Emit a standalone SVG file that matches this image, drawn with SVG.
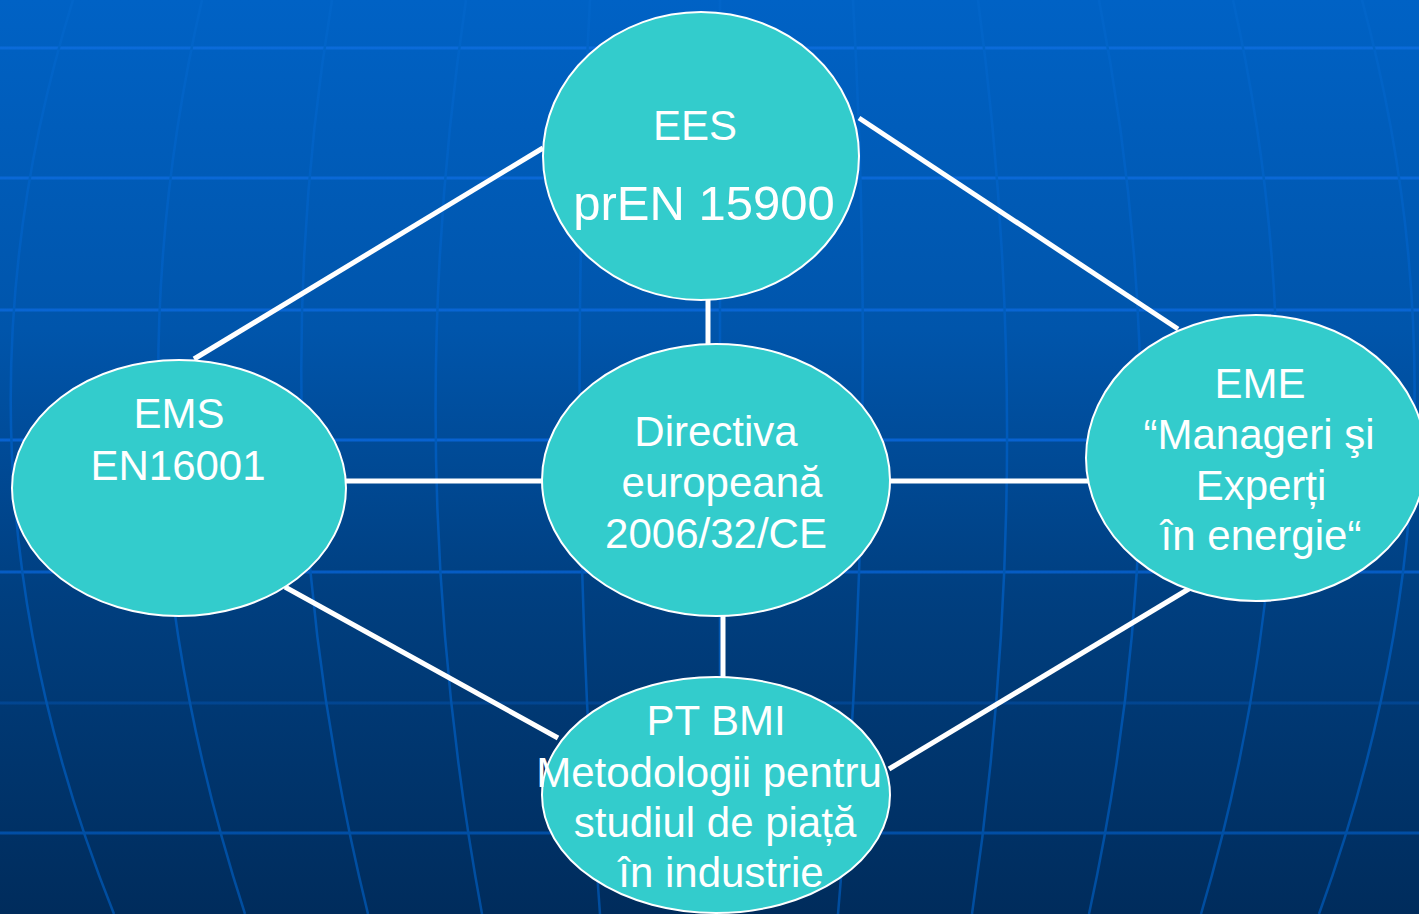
<svg xmlns="http://www.w3.org/2000/svg" width="1419" height="914" viewBox="0 0 1419 914">
  <defs>
    <linearGradient id="bg" x1="0" y1="0" x2="0" y2="1">
      <stop offset="0" stop-color="#0062c5"/>
      <stop offset="0.36" stop-color="#0055ab"/>
      <stop offset="0.65" stop-color="#003f80"/>
      <stop offset="1" stop-color="#002c5c"/>
    </linearGradient>
    <linearGradient id="gridH" gradientUnits="userSpaceOnUse" x1="0" y1="0" x2="0" y2="914">
      <stop offset="0" stop-color="#0b6cda"/>
      <stop offset="0.5" stop-color="#0862d0"/>
      <stop offset="1" stop-color="#004a9c"/>
    </linearGradient>
    <linearGradient id="gridV" gradientUnits="userSpaceOnUse" x1="0" y1="0" x2="0" y2="914">
      <stop offset="0" stop-color="#0265c9"/>
      <stop offset="0.45" stop-color="#005bbc"/>
      <stop offset="1" stop-color="#004d9f"/>
    </linearGradient>
  </defs>
  <style>
    .gh { stroke: url(#gridH); stroke-width: 3; fill: none; }
    .gv { stroke: url(#gridV); stroke-width: 2.5; fill: none; }
    .conn { stroke: #ffffff; stroke-width: 5; fill: none; }
    .node { fill: #33cccc; stroke: #ffffff; stroke-width: 2; }
    .lbl { fill: #ffffff; font-family: "Liberation Sans", Arial, sans-serif; font-size: 42px; text-anchor: middle; }
    .big { font-size: 49px; }
  </style>

  <g id="background">
    <rect x="0" y="0" width="1419" height="914" fill="url(#bg)"/>
    <g id="grid-horizontal">
      <line class="gh" x1="0" y1="48" x2="1419" y2="48"/>
      <line class="gh" x1="0" y1="178" x2="1419" y2="178"/>
      <line class="gh" x1="0" y1="310" x2="1419" y2="310"/>
      <line class="gh" x1="0" y1="440" x2="1419" y2="440"/>
      <line class="gh" x1="0" y1="572" x2="1419" y2="572"/>
      <line class="gh" x1="0" y1="703" x2="1419" y2="703" stroke-opacity="0.45"/>
      <line class="gh" x1="0" y1="833" x2="1419" y2="833"/>
    </g>
    <g id="grid-meridians">
      <path class="gv" d="M73,0 Q-69.5,457 114,914"/>
      <path class="gv" d="M202,0 Q96.5,457 245,914"/>
      <path class="gv" d="M332,0 Q256,457 368,914"/>
      <path class="gv" d="M466,0 Q398,457 482,914"/>
      <path class="gv" d="M590,0 Q565,457 600,914"/>
      <path class="gv" d="M720,0 L720,914"/>
      <path class="gv" d="M853,0 Q878.5,457 838,914"/>
      <path class="gv" d="M978,0 Q1039,457 972,914"/>
      <path class="gv" d="M1099,0 Q1188,457 1089,914"/>
      <path class="gv" d="M1233,0 Q1335,457 1201,914"/>
      <path class="gv" d="M1362,0 Q1485.5,457 1319,914"/>
    </g>
  </g>

  <g id="connectors">
    <line class="conn" x1="543" y1="148" x2="194" y2="359"/>
    <line class="conn" x1="859" y1="118" x2="1178" y2="329"/>
    <line class="conn" x1="708" y1="298" x2="708" y2="347"/>
    <line class="conn" x1="344" y1="481" x2="544" y2="481"/>
    <line class="conn" x1="889" y1="481" x2="1088" y2="481"/>
    <line class="conn" x1="723" y1="615" x2="723" y2="679"/>
    <line class="conn" x1="285" y1="587" x2="558" y2="738"/>
    <line class="conn" x1="1192" y1="587" x2="889" y2="769"/>
  </g>

  <g id="node-ees">
    <ellipse class="node" cx="701" cy="156" rx="158" ry="144"/>
    <text class="lbl" x="695" y="140">EES</text>
    <text class="lbl big" x="704" y="220">prEN 15900</text>
  </g>

  <g id="node-ems">
    <ellipse class="node" cx="179" cy="488" rx="167" ry="128"/>
    <text class="lbl" x="179" y="428">EMS</text>
    <text class="lbl" x="178" y="480">EN16001</text>
  </g>

  <g id="node-directiva">
    <ellipse class="node" cx="716" cy="480" rx="174" ry="136"/>
    <text class="lbl" x="716" y="446">Directiva</text>
    <text class="lbl" x="722" y="497">europeană</text>
    <text class="lbl" x="716" y="548">2006/32/CE</text>
  </g>

  <g id="node-eme">
    <ellipse class="node" cx="1256" cy="458" rx="170" ry="143"/>
    <text class="lbl" x="1260" y="398">EME</text>
    <text class="lbl" x="1259" y="449">“Manageri şi</text>
    <text class="lbl" x="1261" y="500">Experți</text>
    <text class="lbl" x="1261" y="550">în energie“</text>
  </g>

  <g id="node-ptbmi">
    <ellipse class="node" cx="716" cy="795" rx="174" ry="118"/>
    <text class="lbl" x="716" y="735">PT BMI</text>
    <text class="lbl" x="709" y="787">Metodologii pentru</text>
    <text class="lbl" x="715" y="837">studiul de piață</text>
    <text class="lbl" x="721" y="887">în industrie</text>
  </g>
</svg>
